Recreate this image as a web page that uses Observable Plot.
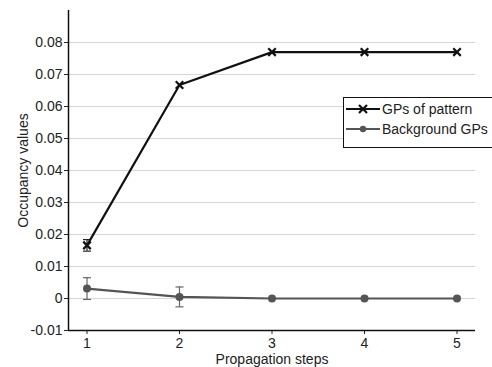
<!DOCTYPE html>
<html>
<head>
<meta charset="utf-8">
<script src="https://cdn.jsdelivr.net/npm/d3@7"></script>
<script src="https://cdn.jsdelivr.net/npm/@observablehq/plot@0.6"></script>
<style>
  html, body { margin: 0; padding: 0; background: #fff; overflow: hidden; }
  #wrap { position: relative; width: 492px; height: 367px; font-family: "Liberation Sans", Arial, sans-serif; }
  #legend { position: absolute; left: 343px; top: 97px; width: 160px; height: 51px; box-sizing: border-box;
            border: 1px solid #111; background: #fff; font-size: 14px; color: #222; padding-top: 1px; }
  .row { display: flex; align-items: center; height: 20px; }
  .row svg { margin-left: 2px; margin-right: 2px; }
</style>
</head>
<body>
<div id="wrap"><div id="legend"></div></div>
<script>
// ---- data ----
const steps = [1, 2, 3, 4, 5];
const patternMean = [0.0166, 0.0667, 0.077, 0.077, 0.077];
const patternErr  = [0.0018, 0, 0, 0, 0];
const bgMean = [0.0031, 0.0005, 0, 0, 0];
const bgErr  = [0.0034, 0.0031, 0, 0, 0];
const seriesNames = ["GPs of pattern", "Background GPs"];
const xTicks = [1, 2, 3, 4, 5];
const yTicks = [-0.01, 0, 0.01, 0.02, 0.03, 0.04, 0.05, 0.06, 0.07, 0.08];
const xDomain = [0.8, 5.2];
const yDomain = [-0.01, 0.09];
const xLabel = "Propagation steps";
const yLabel = "Occupancy values";

const colors = {[seriesNames[0]]: "#111", [seriesNames[1]]: "#555"};
const errColors = {[seriesNames[0]]: "#222", [seriesNames[1]]: "#666"};

const rows = [];
steps.forEach((s, i) => {
  rows.push({series: seriesNames[0], x: s, y: patternMean[i], e: patternErr[i]});
  rows.push({series: seriesNames[1], x: s, y: bgMean[i], e: bgErr[i]});
});
const errRows = rows.filter(d => d.e > 0);

const capSymbol = {
  draw(context, size) {
    const w = 4;
    context.moveTo(-w, 0);
    context.lineTo(w, 0);
  }
};

const fmt = d => d === 0 ? "0" : (d < 0 ? "-" + Math.abs(d).toFixed(2) : d.toFixed(2));

const chart = Plot.plot({
  width: 492,
  height: 367,
  marginLeft: 68,
  marginRight: 17,
  marginTop: 10,
  marginBottom: 37,
  style: {fontFamily: "'Liberation Sans', Arial, sans-serif", fontSize: "14px", color: "#222", background: "#fff"},
  x: {domain: xDomain, ticks: xTicks},
  y: {domain: yDomain, ticks: yTicks},
  marks: [
    Plot.gridY(yTicks.filter(t => t > yDomain[0]), {stroke: "#d6d6d6", strokeOpacity: 1, strokeWidth: 1}),
    Plot.axisX(xTicks, {tickSize: 4, tickPadding: 4, tickFormat: d => String(d), label: xLabel, labelAnchor: "center", labelArrow: "none", labelOffset: 33, fontSize: 14}),
    Plot.axisY(yTicks, {tickSize: 4, tickPadding: 2, tickFormat: fmt, label: yLabel, labelAnchor: "center", labelArrow: "none", labelOffset: 50, fontSize: 14}),
    Plot.ruleX([xDomain[0]], {stroke: "#111", strokeWidth: 1.5}),
    Plot.ruleY([yDomain[0]], {stroke: "#111", strokeWidth: 1.5}),
    // error bars
    Plot.ruleX(errRows, {x: "x", y1: d => d.y - d.e, y2: d => d.y + d.e, stroke: d => errColors[d.series], strokeWidth: 1.2}),
    Plot.dot(errRows, {x: "x", y: d => d.y + d.e, symbol: capSymbol, stroke: d => errColors[d.series], strokeWidth: 1.2, fill: "none", r: 4}),
    Plot.dot(errRows, {x: "x", y: d => d.y - d.e, symbol: capSymbol, stroke: d => errColors[d.series], strokeWidth: 1.2, fill: "none", r: 4}),
    // lines
    Plot.line(rows, {x: "x", y: "y", z: "series", stroke: d => colors[d.series], strokeWidth: 2.2}),
    Plot.dot(rows.filter(d => d.series === seriesNames[0]), {x: "x", y: "y", symbol: "times", stroke: colors[seriesNames[0]], strokeWidth: 2.2, r: 3.5}),
    Plot.dot(rows.filter(d => d.series === seriesNames[1]), {x: "x", y: "y", symbol: "circle", fill: colors[seriesNames[1]], stroke: "none", r: 4})
  ]
});
document.getElementById("wrap").prepend(chart);

// legend
const legend = document.getElementById("legend");
seriesNames.forEach((name, i) => {
  const row = document.createElement("div");
  row.className = "row";
  const c = colors[name];
  const marker = i === 0
    ? `<path d="M13,3 L21,11 M21,3 L13,11" stroke="${c}" stroke-width="2.2"/>`
    : `<circle cx="17" cy="7" r="3.2" fill="${c}"/>`;
  row.innerHTML = `<svg width="34" height="14"><line x1="0" y1="7" x2="34" y2="7" stroke="${c}" stroke-width="2.2"/>${marker}</svg><span>${name}</span>`;
  legend.appendChild(row);
});
</script>
</body>
</html>
